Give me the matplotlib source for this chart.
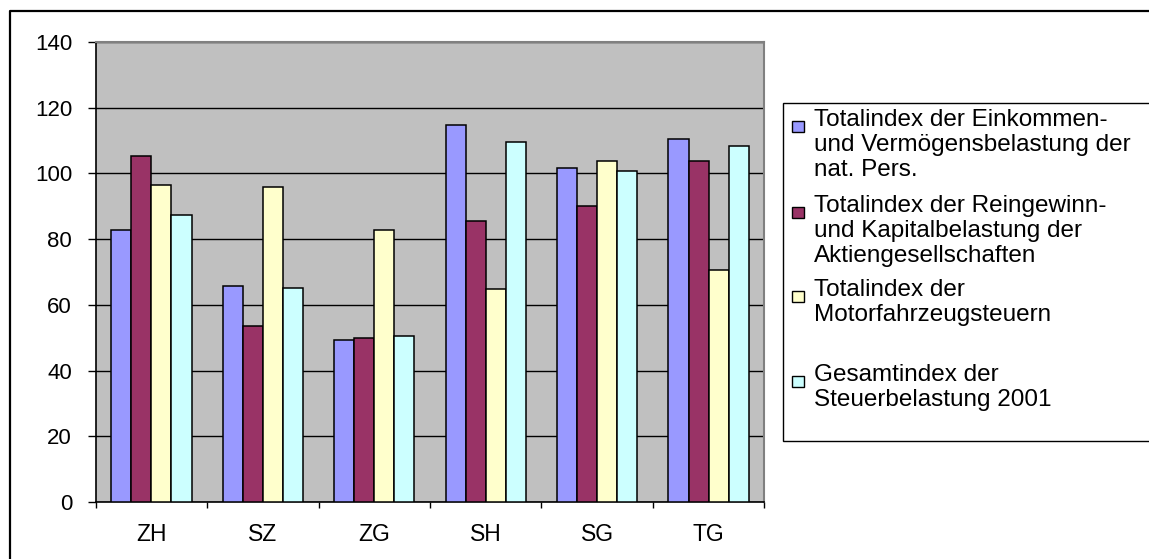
import matplotlib
matplotlib.use("Agg")
import matplotlib.pyplot as plt
from matplotlib.patches import Rectangle
from matplotlib.lines import Line2D
import numpy as np

plt.rcParams['font.family'] = ['Liberation Sans', 'DejaVu Sans']

# Kantone
cantons = ["ZH", "SZ", "ZG", "SH", "SG", "TG"]

# Indexwerte je Reihe
einkommen = [82.7, 65.6, 49.4, 114.8, 101.8, 110.6]
reingewinn = [105.3, 53.6, 49.8, 85.6, 90.2, 103.9]
motorfahrzeug = [96.4, 96.0, 82.7, 64.7, 103.9, 70.6]
gesamt = [87.3, 65.2, 50.6, 109.7, 100.7, 108.5]

series_labels = [
    "Totalindex der Einkommen-\nund Vermögensbelastung der\nnat. Pers.",
    "Totalindex der Reingewinn-\nund Kapitalbelastung der\nAktiengesellschaften",
    "Totalindex der\nMotorfahrzeugsteuern",
    "Gesamtindex der\nSteuerbelastung 2001",
]
series_colors = ["#9999FF", "#993366", "#FFFFCC", "#CCFFFF"]
y_ticks = [0, 20, 40, 60, 80, 100, 120, 140]

W, H = 1149, 559
fig = plt.figure(figsize=(W / 100, H / 100), dpi=100)


def fx(x):
    return x / W


def fy(y):
    return 1 - y / H


# plot area in pixel coords of the reference
left, right, top, bottom = 95.7, 764.3, 42.0, 502.0
ax = fig.add_axes([fx(left), fy(bottom), fx(right - left), (bottom - top) / H])
ax.set_facecolor("#C0C0C0")

x = np.arange(len(cantons))
width = 0.18
all_series = [einkommen, reingewinn, motorfahrzeug, gesamt]
for i, (vals, col) in enumerate(zip(all_series, series_colors)):
    ax.bar(x + (i - 1.5) * width, vals, width, color=col,
           edgecolor="black", linewidth=1.1, zorder=3)

ax.set_xlim(-0.5, len(cantons) - 0.5)
ax.set_ylim(0, 140)
ax.set_yticks(y_ticks)
ax.yaxis.grid(True, color="black", linewidth=1.0, zorder=1)
ax.set_axisbelow(True)
ax.tick_params(axis="y", length=6, width=1, pad=11, labelsize=16)

ax.set_xticks(x)
ax.set_xticklabels(cantons)
ax.set_xticks(np.arange(len(cantons) + 1) - 0.5, minor=True)
ax.tick_params(axis="x", which="major", length=0, pad=15, labelsize=16.5)
ax.tick_params(axis="x", which="minor", length=4, width=1)

for side in ["left", "bottom"]:
    ax.spines[side].set_color("black")
    ax.spines[side].set_linewidth(1.2)
for side in ["top", "right"]:
    ax.spines[side].set_color("#808080")
    ax.spines[side].set_linewidth(1.5)

# outer chart frame (only left and top visible in the crop)
fig.add_artist(Line2D([fx(9.5), fx(9.5), fx(W + 5)], [fy(H + 5), fy(11), fy(11)],
                      transform=fig.transFigure, color="black", linewidth=1.6))

# legend box drawn by hand to keep the Excel layout
fig.add_artist(Rectangle((fx(782.5), fy(441)), fx(W + 10 - 782.5), (441 - 102.5) / H,
                         transform=fig.transFigure, facecolor="white",
                         edgecolor="black", linewidth=1.0))
entry_tops = [120, 206, 290, 375]
line_step = 25
for lab, col, yt in zip(series_labels, series_colors, entry_tops):
    fig.add_artist(Rectangle((fx(792), fy(yt + 12)), fx(12), 11 / H,
                             transform=fig.transFigure, facecolor=col,
                             edgecolor="black", linewidth=1.0))
    for j, line in enumerate(lab.split("\n")):
        fig.text(fx(814), fy(yt + j * line_step), line, fontsize=17.5,
                 va="center", ha="left")

fig.savefig("out.png", dpi=100)
